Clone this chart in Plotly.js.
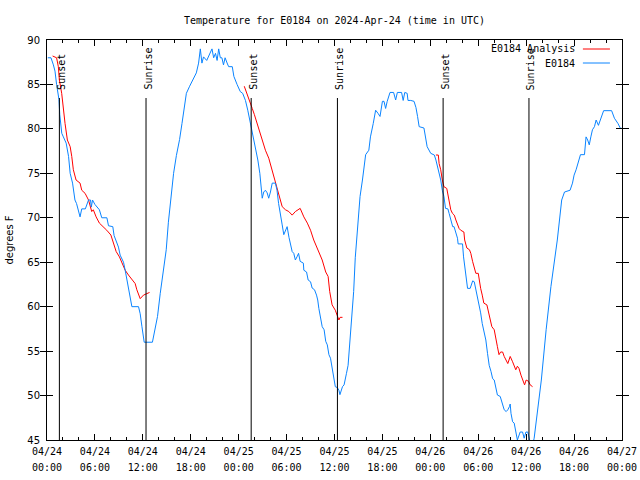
<!DOCTYPE html>
<html>
<head>
<meta charset="utf-8">
<script src="https://cdn.plot.ly/plotly-3.0.1.min.js"></script>
<style>html,body{margin:0;padding:0;background:#fff;}#chart{width:640px;height:480px;}</style>
</head>
<body>
<div id="chart"></div>
<script>
// Observations (hours since 2024-04-24 00:00 UTC, degrees F)
const obsHours = [0.1,0.5,0.8,1.0,1.2,1.5,1.6,1.85,2.05,2.4,2.7,2.9,3.2,3.35,3.5,3.7,3.95,4.14,4.35,4.8,5.2,5.45,5.55,5.7,6.0,6.23,6.56,6.86,7.5,7.7,8.24,8.4,8.66,8.95,9.16,9.58,9.79,10.0,10.2,10.4,10.63,11.46,11.67,11.88,12.17,13.2,13.55,13.84,14.18,14.5,14.93,15.2,15.43,15.85,16.2,16.6,16.9,17.2,17.45,17.86,18.28,18.7,18.98,19.2,19.4,19.6,20.0,20.45,20.66,20.87,21.1,21.3,21.5,21.7,21.9,22.1,22.3,22.6,22.75,23.2,23.4,23.8,24.2,24.5,24.85,25.14,25.55,25.97,26.2,26.4,26.65,26.8,26.95,27.14,27.35,27.57,27.76,27.98,28.2,28.6,28.8,29.0,29.23,29.45,29.65,29.86,30.07,30.3,30.5,30.7,30.9,31.1,31.3,31.5,31.7,32.1,32.16,32.5,32.7,33.0,33.2,33.5,33.75,33.9,34.04,34.25,34.46,34.7,34.9,35.1,35.3,35.5,35.7,35.9,36.1,36.35,36.55,36.68,36.85,37.0,37.2,37.4,37.5,37.7,37.8,38.0,38.2,38.4,38.6,38.85,39.2,39.5,39.7,39.9,40.3,40.5,40.85,41.15,41.45,41.7,42.0,42.2,42.4,42.6,42.95,43.4,43.66,43.87,44.4,44.6,44.8,45.1,45.2,45.55,45.96,46.2,46.4,46.6,47.2,47.4,47.6,48.05,48.5,48.7,49.0,49.3,49.5,49.7,49.9,50.2,50.35,50.56,50.8,50.97,51.2,51.4,51.48,52.03,52.16,52.3,52.45,52.66,52.99,53.3,53.5,53.7,53.9,54.1,54.3,54.5,54.75,54.95,55.16,55.37,55.6,55.8,56.0,56.2,56.4,56.75,57.05,57.25,57.5,57.7,57.9,58.0,58.1,58.3,58.5,58.7,58.9,59.25,59.55,59.75,59.97,60.2,60.4,60.7,61.0,61.4,61.9,62.5,63.1,63.9,64.2,64.45,64.8,65.5,65.8,66.0,66.25,66.5,66.8,67.3,67.5,67.7,67.9,68.1,68.3,68.55,68.76,69.05,69.4,69.7,70.7,71.05,71.5,71.8,72.0];
const obsTemps = [88,88,87.2,86.5,85,83.3,81.6,79.5,79.1,78.4,76.9,75,73.9,72.8,72,71.6,70.9,70.1,71,71,72,72,71.2,72,71.5,71.2,70.9,70,70,69.1,69,68,67.3,66.7,65.8,65,64.1,63,62.3,61.3,60,60,59.2,57.8,56,56,57.4,58.9,61.5,63.8,66.4,69.5,71.6,75,77,78.8,80.6,82.5,84,84.8,85.5,86.3,87.4,89,87.4,88.1,87.7,88.5,89,88,88.5,87.7,89,88,88,87.2,88,87.3,87,87,85.9,85,84.2,84,83.2,82.1,80.3,78.8,77.6,76.5,75,73.5,72.2,72.9,73.1,72.8,72.2,72.9,73.9,73.9,73.1,71.6,70.1,69.2,68.1,68.6,69,67.8,67,66.2,66,65.25,65.6,66,65.1,64.9,64.1,63.9,63,62.8,62.1,61.9,61.3,60.75,59.8,58.7,57.75,57.4,56.1,55.7,54.6,54.2,53.25,52.1,51,50.9,50.6,50.1,50.7,51,51.2,51.9,52.5,53.4,54.6,56.6,59.6,61.7,65.5,68.8,72.4,74.25,75.75,77.1,77.6,79.1,80.6,82.1,81.75,81.4,83.1,83.1,82.3,83.1,84.1,84.1,83.25,84.1,84.1,83.2,84.1,84,83.2,83.2,83.1,82.4,81.4,80.25,80.1,79.1,78,77.25,77.06,76.5,75.4,74.25,73.1,72.4,71.06,71,70.5,69.75,69,69,68.25,67.7,67.06,67.06,65.6,64.5,63.4,62.06,62.06,62.9,62.8,61.9,61.2,60.4,59.3,58.1,57,56.25,54.75,53.4,52.7,51.9,51.75,51,50.06,49.9,48.9,48.4,48.2,48.4,48.75,49.05,48,47.06,46.9,45.9,45,45.9,45.9,45.2,45.9,45.9,45,44,45.2,48,51.75,57.4,62.25,67.5,69.75,72,72.9,73.1,73.9,74.8,75.4,76.1,77.1,77.1,79.1,78.75,78.2,79.1,79.9,80.25,81,80.4,81.4,82.05,82.05,81.2,80.6,80.06,80.06];

// Analysis (nulls separate the three nights)
const anaHours = [0.7,1.2,1.42,1.55,1.84,2.05,2.26,2.55,2.9,3.1,3.3,3.64,4.14,4.35,4.77,5.2,5.4,5.6,5.8,6.15,6.56,7.07,7.48,8.0,8.32,8.66,9.07,9.37,9.79,10.2,10.63,11.04,11.25,11.67,12.08,12.5,12.84,
  18.0,
  24.7,25.26,25.7,25.97,26.3,26.64,26.94,27.35,27.77,28.07,28.3,28.6,29.0,29.45,29.86,30.28,30.7,31.1,31.7,32.16,32.6,33.0,33.4,33.75,34.04,34.46,34.9,35.2,35.4,35.7,36.1,36.35,36.55,36.7,37.0,
  42.0,
  48.7,49.0,49.1,49.3,49.5,49.7,50.06,50.35,50.56,50.77,51.0,51.2,51.4,51.6,51.8,52.2,52.3,52.57,52.9,53.07,53.3,53.5,53.7,54.0,54.1,54.3,54.5,54.7,55.08,55.4,55.7,56.0,56.2,56.4,56.6,56.8,57.05,57.25,57.7,58.0,58.3,58.5,58.7,58.9,59.1,59.35,59.55,59.8,60.0,60.3,60.5,60.8];
const anaTemps = [88.2,88,87,85.5,84,82.1,80.6,78.75,78,76.9,75.4,74.25,73.9,73.1,72.75,72,71.25,70.7,70.9,70.1,69.4,69,68.6,68.06,67.1,66.2,65.6,64.9,64.1,63.56,63,62.6,61.9,60.9,61.3,61.5,61.6,
  null,
  84.8,83.25,82.3,81.6,80.6,79.5,78.56,77.6,76.7,75.75,74.8,74.06,72.75,71.25,70.9,70.7,70.3,70.7,71.06,70.1,69.4,68.6,67.5,66.75,66.2,65.25,63.9,63.4,61.7,60.2,59.6,59.06,58.5,58.8,58.8,
  null,
  77.06,77.06,76.1,75.4,74.25,73.5,73.3,72,70.9,70.5,70.3,69.75,69.2,68.8,68.6,68.4,67.5,66.6,66.4,66,65.06,64.3,63.75,63.75,63,62.06,61.3,60.4,60.2,58.9,57.75,57.4,56.25,55.5,54.6,54.9,54.9,54.4,53.6,54.4,53.8,53.25,52.9,53.3,53.06,52.3,51.75,51.2,51.75,51.6,51.2,51];

// Sunrise / sunset events
const sunLabels = ['Sunset','Sunrise','Sunset','Sunrise','Sunset','Sunrise'];
const sunTimes = ['2024-04-24 01:33','2024-04-24 12:24','2024-04-25 01:34','2024-04-25 12:22','2024-04-26 01:36','2024-04-26 12:21'];

const xRange = ['2024-04-24 00:00','2024-04-27 00:00'];
const seriesNames = ['E0184 Analysis','E0184'];
const seriesColors = ['#ff0000','#0a84ff'];

function hToDate(h){
  if(h===null) return null;
  const d = new Date(Date.UTC(2024,3,24) + Math.round(h*3600000));
  return d.toISOString().slice(0,19).replace('T',' ');
}

const mono = 'DejaVu Sans Mono, monospace';
const sans = 'DejaVu Sans, sans-serif';

const traces = [
  {x: anaHours.map(hToDate), y: anaTemps, mode:'lines', name: seriesNames[0],
   line:{color:seriesColors[0], width:1}, connectgaps:false, hoverinfo:'skip'},
  {x: obsHours.map(hToDate), y: obsTemps, mode:'lines', name: seriesNames[1],
   line:{color:seriesColors[1], width:1}, hoverinfo:'skip'},
  // carrier for the second line of x tick labels (time of day)
  {x: xRange, y: [null, null], xaxis:'x2', yaxis:'y', mode:'lines', hoverinfo:'skip', showlegend:false}
];

const shapes = [];
const annotations = [];
sunTimes.forEach((t,i)=>{
  shapes.push({type:'line', xref:'x', yref:'paper', x0:t, x1:t, y0:0, y1:0.855,
    line:{color:'#000', width:1}});
  annotations.push({text:sunLabels[i], xref:'x', yref:'paper', x:t, y:0.87,
    xanchor:'center', yanchor:'bottom', textangle:-90, showarrow:false, xshift:1.5,
    font:{family:mono, size:10, color:'#000'}});
});
// legend (gnuplot style: text then sample)
const legY = [0.9775, 0.9425];
seriesNames.forEach((n,i)=>{
  annotations.push({text:n, xref:'paper', yref:'paper', x:0.9217, y:legY[i],
    xanchor:'right', yanchor:'middle', showarrow:false,
    font:{family:mono, size:10, color:'#000'}});
  shapes.push({type:'line', xref:'paper', yref:'paper', x0:0.932, x1:0.979, y0:legY[i], y1:legY[i],
    line:{color:seriesColors[i], width:1}});
});

const layout = {
  width:640, height:480,
  margin:{l:47, r:18, t:40, b:40, pad:0},
  paper_bgcolor:'#fff', plot_bgcolor:'#fff',
  showlegend:false,
  title:{text:'Temperature for E0184 on 2024-Apr-24 (time in UTC)', x:0.5, xref:'paper',
    y:1-20/480, yanchor:'middle', font:{family:mono, size:10, color:'#000'}},
  xaxis:{type:'date', range:xRange,
    tick0:'2024-04-24 00:00', dtick:21600000, tickformat:'%m/%d',
    ticks:'inside', ticklen:6, tickcolor:'#000', tickwidth:1,
    showline:true, linecolor:'#000', linewidth:1, mirror:'allticks',
    showgrid:false, zeroline:false, ticklabelstandoff:2,
    minor:{dtick:7200000, ticks:'inside', ticklen:3, tickcolor:'#000', showgrid:false},
    tickfont:{family:mono, size:10, color:'#000'}},
  xaxis2:{type:'date', range:xRange, overlaying:'x', side:'bottom', anchor:'y',
    tick0:'2024-04-24 00:00', dtick:21600000, tickformat:'%H:%M',
    ticks:'', showline:false, showgrid:false, zeroline:false, ticklabelstandoff:20,
    tickfont:{family:mono, size:10, color:'#000'}},
  yaxis:{range:[45,90], dtick:5, tick0:45,
    ticks:'inside', ticklen:6, tickcolor:'#000', tickwidth:1,
    showline:true, linecolor:'#000', linewidth:1, mirror:'allticks',
    showgrid:false, zeroline:false, ticklabelstandoff:4,
    tickfont:{family:sans, size:10, color:'#000'},
    title:{text:'degrees F', font:{family:sans, size:10, color:'#000'}, standoff:11}},
  shapes:shapes,
  annotations:annotations
};

Plotly.newPlot('chart', traces, layout, {staticPlot:true, displayModeBar:false});
</script>
</body>
</html>
